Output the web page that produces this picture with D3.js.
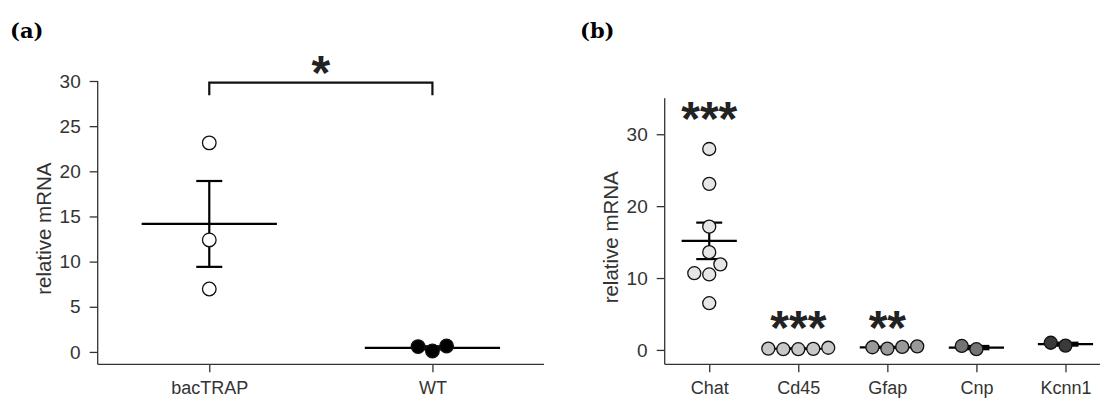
<!DOCTYPE html>
<html>
<head>
<meta charset="utf-8">
<script src="https://cdn.jsdelivr.net/npm/d3@7"></script>
<style>
  body { margin: 0; background: #fff; }
  .axis path, .axis line { stroke: #333; stroke-width: 1.3; }
  .axis text { font-family: 'Liberation Sans', Arial, sans-serif; font-size: 19px; fill: #333; }
  .xaxis text { font-size: 18px; }
  .ylabel { font-family: 'Liberation Sans', Arial, sans-serif; font-size: 20.5px; fill: #333; }
  .star { font-family: 'Liberation Sans', Arial, sans-serif; font-weight: bold; font-size: 48px; fill: #222; }
  .panel { font-family: 'DejaVu Serif', serif; font-weight: bold; font-size: 21px; fill: #000; }
</style>
</head>
<body>
<div class="chart"></div>
<script>
// ---- data (a) ----
const groupsA = ['bacTRAP', 'WT'];
const bacTRAPValues = [23.15, 12.4, 6.97];
const wtValues = [0.59, 0.11, 0.66];
const fillsA = ['#fff', '#000'];
const ticksA = [0, 5, 10, 15, 20, 25, 30];

// ---- data (b) ----
const genes = ['Chat', 'Cd45', 'Gfap', 'Cnp', 'Kcnn1'];
const chatValues = [27.95, 23.1, 17.15, 13.6, 11.9, 10.67, 10.5, 6.5];
const cd45Values = [0.18, 0.1, 0.1, 0.15, 0.3];
const gfapValues = [0.37, 0.18, 0.42, 0.5];
const cnpValues = [0.55, 0.1];
const kcnn1Values = [1.0, 0.6];
const fillsB = ['#e6e6e6', '#c8c8c8', '#999999', '#737373', '#3a3a3a'];
const starsB = ['***', '***', '**', '', ''];
const ticksB = [0, 10, 20, 30];

const svg = d3.select('.chart').append('svg')
  .attr('width', 1100).attr('height', 398);

// 平均與標準誤
const sem = v => d3.deviation(v) / Math.sqrt(v.length);

// 簡單的 beeswarm：由小到大放，找離中心最近又不重疊的位置
function swarm(values, y, minDist){
  const placed = [];
  const order = values.map((v, i) => i).sort((a, b) => values[a] - values[b]);
  const out = new Array(values.length);
  order.forEach(i => {
    const py = y(values[i]);
    let cands = [0];
    placed.forEach(p => {
      const dy = Math.abs(p.y - py);
      if (dy < minDist){
        const dx = Math.sqrt(minDist * minDist - dy * dy);
        cands.push(p.x - dx, p.x + dx);
      }
    });
    cands = cands.filter(cx => placed.every(p => Math.hypot(p.x - cx, p.y - py) >= minDist - 0.01))
                 .sort((a, b) => (Math.abs(a) - Math.abs(b)) || (a - b));
    const pt = {x: cands[0], y: py};
    placed.push(pt);
    out[i] = pt;
  });
  return out;
}

function drawPanel(opt){
  const g = svg.append('g');
  const x = d3.scalePoint().domain(opt.cats).range(opt.xRange).padding(0.5);
  const y = d3.scaleLinear().domain(opt.yDomain).range(opt.yRange);
  const step = x.step();

  // axes
  g.append('g').attr('class', 'axis')
    .attr('transform', `translate(${opt.xRange[0]},0)`)
    .call(d3.axisLeft(y).tickValues(opt.ticks).tickSize(8).tickSizeOuter(0).tickPadding(9));
  g.append('g').attr('class', 'axis xaxis')
    .attr('transform', `translate(0,${opt.yRange[0]})`)
    .call(d3.axisBottom(x).tickSize(8).tickSizeOuter(0).tickPadding(9));
  g.selectAll('.axis .domain').remove();
  // 軸線自己畫（沒有外側刻度）
  g.append('line').attr('x1', opt.xRange[0]).attr('x2', opt.xRange[0])
    .attr('y1', opt.yRange[0]).attr('y2', opt.yRange[1])
    .style('stroke', '#333').style('stroke-width', 1.3);
  g.append('line').attr('x1', opt.xRange[0]).attr('x2', opt.xRange[1])
    .attr('y1', opt.yRange[0]).attr('y2', opt.yRange[0])
    .style('stroke', '#333').style('stroke-width', 1.3);

  g.append('text').attr('class', 'ylabel')
    .attr('transform', `translate(${opt.xRange[0] - 47},${(opt.yRange[0] + opt.yRange[1]) / 2 + 6}) rotate(-90)`)
    .attr('text-anchor', 'middle').text('relative mRNA');

  // mean + sem
  opt.series.forEach((vals, i) => {
    const cx = x(opt.cats[i]);
    const m = d3.mean(vals), s = sem(vals);
    const cap = 13, half = step * opt.meanFrac;
    g.append('line').attr('x1', cx - half).attr('x2', cx + half)
      .attr('y1', y(m)).attr('y2', y(m))
      .style('stroke', '#000').style('stroke-width', 2.2);
    g.append('line').attr('x1', cx).attr('x2', cx)
      .attr('y1', y(m - s)).attr('y2', y(m + s))
      .style('stroke', '#000').style('stroke-width', 2.2);
    [m - s, m + s].forEach(v => {
      g.append('line').attr('x1', cx - cap).attr('x2', cx + cap)
        .attr('y1', y(v)).attr('y2', y(v))
        .style('stroke', '#000').style('stroke-width', 2.2);
    });
  });

  // points
  opt.series.forEach((vals, i) => {
    const cx = x(opt.cats[i]);
    const pts = swarm(vals, y, opt.minDist);
    g.selectAll(null).data(pts).join('circle')
      .attr('cx', d => cx + d.x).attr('cy', d => d.y).attr('r', opt.r)
      .style('fill', opt.fills[i]).style('stroke', '#111').style('stroke-width', 1.3);
  });

  return {g, x, y};
}

// ---- panel (a) ----
const pa = drawPanel({
  cats: groupsA, series: [bacTRAPValues, wtValues], fills: fillsA, ticks: ticksA,
  xRange: [97.7, 544], yDomain: [-1.37, 30], yRange: [364.3, 81],
  meanFrac: 0.303, r: 6.8, minDist: 15
});
// 顯著性括號
const bx1 = pa.x('bacTRAP'), bx2 = pa.x('WT'), by = 82.7;
pa.g.append('path')
  .attr('d', `M${bx1},${by + 12.5}V${by}H${bx2}V${by + 12.5}`)
  .style('fill', 'none').style('stroke', '#111').style('stroke-width', 2.2);
pa.g.append('text').attr('class', 'star').attr('text-anchor', 'middle')
  .attr('x', (bx1 + bx2) / 2).attr('y', 89).text('*');

// ---- panel (b) ----
const pb = drawPanel({
  cats: genes, series: [chatValues, cd45Values, gfapValues, cnpValues, kcnn1Values],
  fills: fillsB, ticks: ticksB,
  xRange: [664.7, 1110], yDomain: [-2, 35], yRange: [364.3, 98.3],
  meanFrac: 0.31, r: 6.5, minDist: 15
});
pb.g.selectAll('.starb').data(starsB).join('text').attr('class', 'star')
  .attr('text-anchor', 'middle')
  .attr('x', (d, i) => pb.x(genes[i]))
  .attr('y', (d, i) => i === 0 ? 134.5 : 343.5)
  .text(d => d);

// panel labels
svg.append('text').attr('class', 'panel').attr('x', 10).attr('y', 38).text('(a)');
svg.append('text').attr('class', 'panel').attr('x', 580).attr('y', 38).text('(b)');
</script>
</body>
</html>
